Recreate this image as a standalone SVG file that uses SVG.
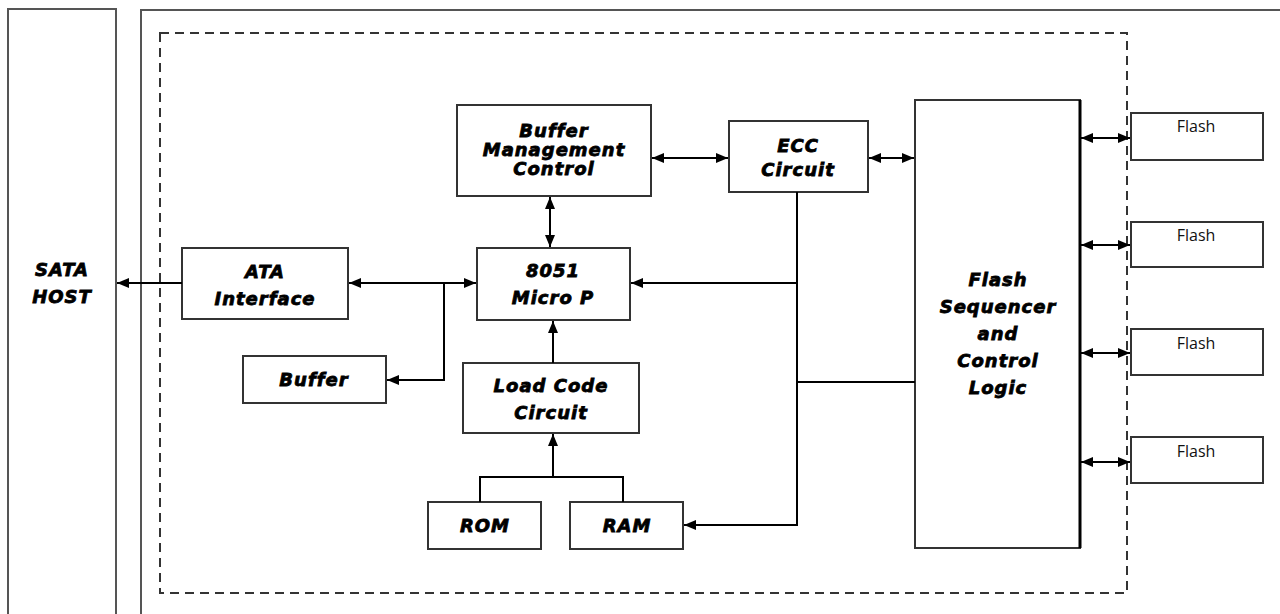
<svg xmlns="http://www.w3.org/2000/svg" width="1280" height="614" viewBox="0 0 1280 614">
<defs>
<marker id="ah" viewBox="0 0 12 10" refX="12" refY="5" markerWidth="12" markerHeight="10" markerUnits="userSpaceOnUse" orient="auto-start-reverse">
<path d="M0,0 L12,5 L0,10 z" fill="#000"/>
</marker>
</defs>
<style>
.box{fill:#fff;stroke:#333;stroke-width:2}
.frame{fill:none;stroke:#555;stroke-width:2}
.dash{fill:none;stroke:#333;stroke-width:2;stroke-dasharray:9 6}
.ln{fill:none;stroke:#000;stroke-width:2}
.t{font-family:"DejaVu Sans",sans-serif;font-weight:bold;font-style:italic;font-size:18px;letter-spacing:1px;text-anchor:middle;fill:#000;stroke:#000;stroke-width:0.8}
.f{font-family:"Open Sans","Noto Sans",sans-serif;font-size:16px;text-anchor:middle;fill:#111}
</style>
<rect width="1280" height="614" fill="#fff"/>
<g id="frames">
<path class="frame" d="M8,614 V9 H116 V614"/>
<path class="frame" d="M141,614 V10 H1280"/>
<rect class="dash" x="160" y="33" width="967" height="560"/>
</g>
<g id="sata-host">
<text class="t" x="62" y="276">SATA</text>
<text class="t" x="62" y="303">HOST</text>
</g>
<g id="ata-interface">
<rect class="box" x="182" y="248" width="166" height="71"/>
<text class="t" x="265" y="278">ATA</text>
<text class="t" x="265" y="305">Interface</text>
</g>
<g id="buffer">
<rect class="box" x="243" y="356" width="143" height="47"/>
<text class="t" x="314" y="386">Buffer</text>
</g>
<g id="buffer-mgmt">
<rect class="box" x="457" y="105" width="194" height="91"/>
<text class="t" x="554" y="137">Buffer</text>
<text class="t" x="554" y="156">Management</text>
<text class="t" x="554" y="175">Control</text>
</g>
<g id="ecc">
<rect class="box" x="729" y="121" width="139" height="71"/>
<text class="t" x="798" y="152">ECC</text>
<text class="t" x="798" y="176">Circuit</text>
</g>
<g id="micro">
<rect class="box" x="477" y="248" width="153" height="72"/>
<text class="t" x="553" y="277">8051</text>
<text class="t" x="553" y="304">Micro P</text>
</g>
<g id="load-code">
<rect class="box" x="463" y="363" width="176" height="70"/>
<text class="t" x="551" y="392">Load Code</text>
<text class="t" x="551" y="419">Circuit</text>
</g>
<g id="rom">
<rect class="box" x="428" y="502" width="113" height="47"/>
<text class="t" x="485" y="532">ROM</text>
</g>
<g id="ram">
<rect class="box" x="570" y="502" width="113" height="47"/>
<text class="t" x="627" y="532">RAM</text>
</g>
<g id="flash-seq">
<rect class="box" x="915" y="100" width="165" height="448"/>
<path d="M1080,100 V548" stroke="#000" stroke-width="3"/>
<text class="t" x="998" y="286">Flash</text>
<text class="t" x="998" y="313">Sequencer</text>
<text class="t" x="998" y="340">and</text>
<text class="t" x="998" y="367">Control</text>
<text class="t" x="998" y="394">Logic</text>
</g>
<g id="flash1">
<rect class="box" x="1131" y="113" width="132" height="47"/>
<text class="f" x="1196" y="132">Flash</text>
</g>
<g id="flash2">
<rect class="box" x="1131" y="222" width="132" height="45"/>
<text class="f" x="1196" y="241">Flash</text>
</g>
<g id="flash3">
<rect class="box" x="1131" y="329" width="132" height="46"/>
<text class="f" x="1196" y="349">Flash</text>
</g>
<g id="flash4">
<rect class="box" x="1131" y="437" width="132" height="46"/>
<text class="f" x="1196" y="457">Flash</text>
</g>
<g id="connectors">
<path class="ln" d="M182,283 H117" marker-end="url(#ah)"/>
<path class="ln" d="M349,283 H476" marker-start="url(#ah)" marker-end="url(#ah)"/>
<path class="ln" d="M444,283 V380 H387" marker-end="url(#ah)"/>
<path class="ln" d="M652,158 H728" marker-start="url(#ah)" marker-end="url(#ah)"/>
<path class="ln" d="M869,158 H914" marker-start="url(#ah)" marker-end="url(#ah)"/>
<path class="ln" d="M550,197 V247" marker-start="url(#ah)" marker-end="url(#ah)"/>
<path class="ln" d="M553,363 V321" marker-end="url(#ah)"/>
<path class="ln" d="M553,477 V434" marker-end="url(#ah)"/>
<path class="ln" d="M480,502 V477 H623 V502"/>
<path class="ln" d="M797,192 V525 H684" marker-end="url(#ah)"/>
<path class="ln" d="M797,283 H631" marker-end="url(#ah)"/>
<path class="ln" d="M797,382 H915"/>
<path class="ln" d="M1081,138 H1130" marker-start="url(#ah)" marker-end="url(#ah)"/>
<path class="ln" d="M1081,245 H1130" marker-start="url(#ah)" marker-end="url(#ah)"/>
<path class="ln" d="M1081,353 H1130" marker-start="url(#ah)" marker-end="url(#ah)"/>
<path class="ln" d="M1081,462 H1130" marker-start="url(#ah)" marker-end="url(#ah)"/>
</g>
</svg>
